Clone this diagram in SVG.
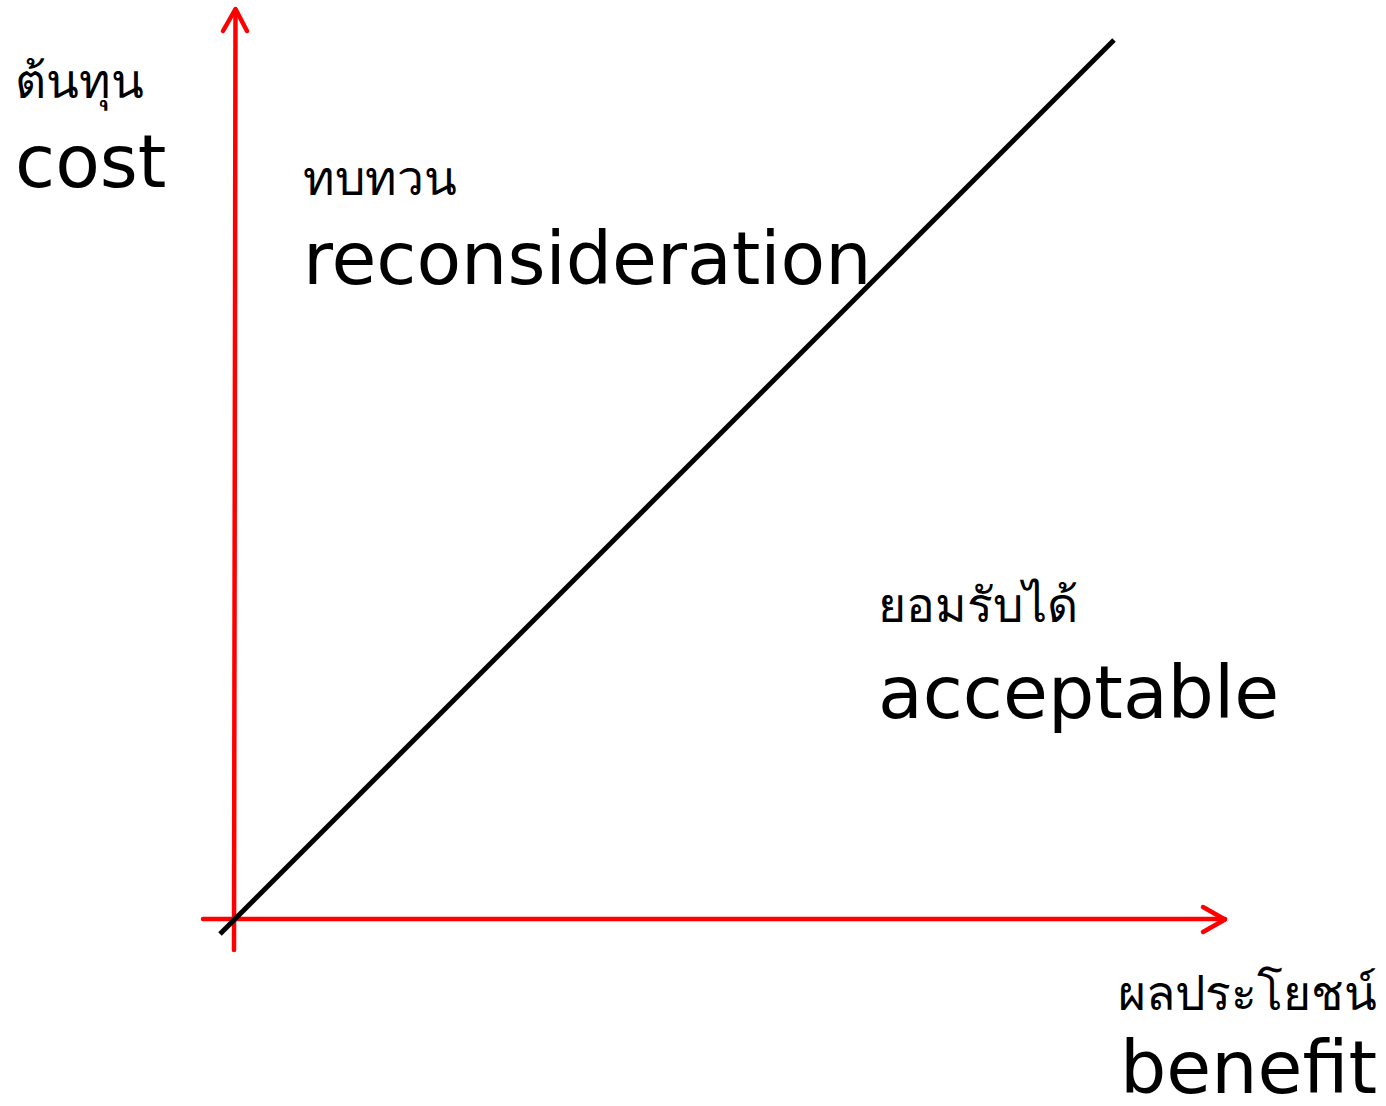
<svg xmlns="http://www.w3.org/2000/svg" width="1386" height="1106" viewBox="0 0 1386 1106">
<style>
.axis{stroke:#ff0000;stroke-width:4.5;fill:none;stroke-linecap:round;stroke-linejoin:round}
.diag{stroke:#000;stroke-width:5;fill:none}
.en{font-family:"DejaVu Sans","Verdana",sans-serif;font-size:73px;fill:#000}
.th{font-family:"DejaVu Serif","Noto Sans",serif;font-size:48px;fill:#000}
</style>
<rect width="1386" height="1106" fill="#fff"/>
<g id="connectors">
<line class="axis" x1="234" y1="950" x2="235.5" y2="10"/>
<polyline class="axis" points="223,31 235.5,9 247,31"/>
<line class="axis" x1="203" y1="919" x2="1225" y2="919"/>
<polyline class="axis" points="1203,907 1225,919.5 1203,932"/>
<line class="diag" x1="220" y1="934" x2="1114" y2="40"/>
</g>
<g id="cost-label">
<text class="th" x="15" y="98">ต้นทุน</text>
<text class="en" x="15" y="187">cost</text>
</g>
<g id="reconsideration-label">
<text class="th" x="303" y="195">ทบทวน</text>
<text class="en" x="303" y="284">reconsideration</text>
</g>
<g id="acceptable-label">
<text class="th" x="878" y="622">ยอมรับได้</text>
<text class="en" x="878" y="718">acceptable</text>
</g>
<g id="benefit-label">
<text class="th" x="1118" y="1010">ผลประโยชน์</text>
<text class="en" x="1120" y="1093">benefit</text>
</g>
</svg>
